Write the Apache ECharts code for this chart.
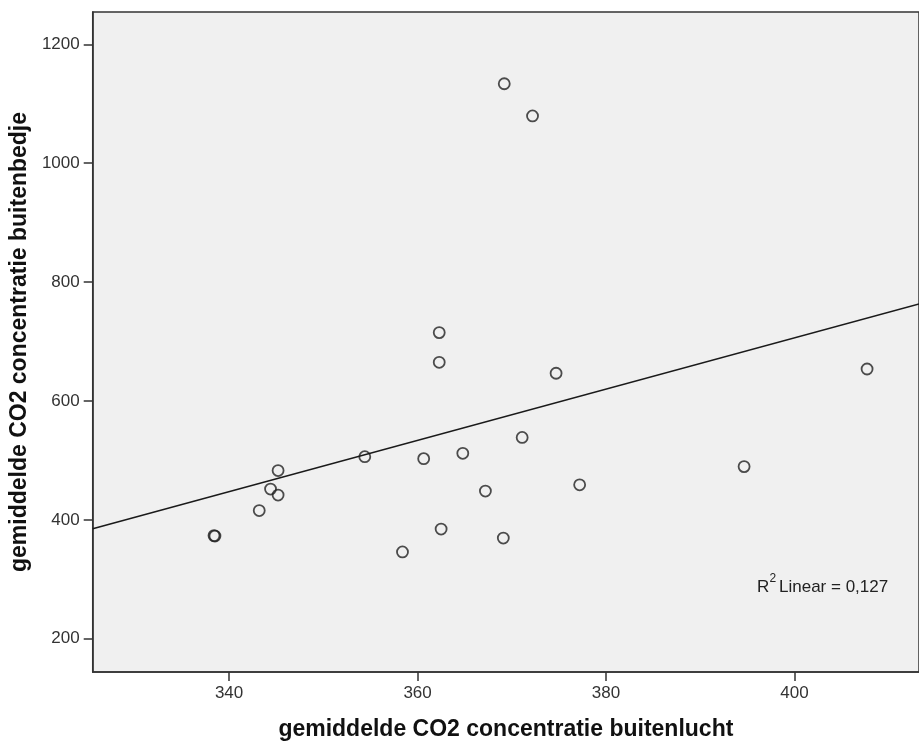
<!DOCTYPE html>
<html>
<head>
<meta charset="utf-8">
<script src="https://cdn.jsdelivr.net/npm/echarts@6/dist/echarts.min.js"></script>
<style>
  html, body { margin: 0; padding: 0; background: #fff; }
  #chart { width: 919px; height: 746px; }
</style>
</head>
<body>
<div id="chart"></div>
<script>
// gemiddelde CO2 buitenlucht (x) tegen buitenbedje (y)
const xs = [369.2, 372.2, 407.7, 394.65, 338.5, 338.4, 343.2, 344.4, 345.2, 345.2, 354.4,
  360.65, 358.4, 362.3, 362.3, 374.7, 371.1, 364.8, 367.2, 377.2, 362.5, 369.1]
const ys = [1133.6, 1079.5, 653.8, 489.6, 372.8, 373.5, 415.7, 451.8, 483, 441.7, 506.3,
  503, 346, 715, 665, 646.6, 538.6, 512, 448.4, 459, 384.5, 369.4]

const fitX = [325.53, 413.21]
const fitY = [385, 763]

const xTicks = [340, 360, 380, 400]
const yTicks = [200, 400, 600, 800, 1000, 1200]

const font = '"Liberation Sans", Arial, sans-serif'
const axisColor = '#333'

const chart = echarts.init(document.getElementById('chart'))

const option = {
  animation: false,
  grid: {
    left: 88,
    right: -2,
    top: 12,
    bottom: 69,
    show: true,
    backgroundColor: '#f0f0f0',
    borderColor: axisColor,
    borderWidth: 1.5
  },
  xAxis: {
    type: 'value',
    min: 325.53,
    max: 413.21,
    name: 'gemiddelde CO2 concentratie buitenlucht',
    nameLocation: 'middle',
    nameGap: 46,
    nameTextStyle: { fontFamily: font, fontSize: 23, fontWeight: 'bold', color: '#111' },
    axisLine: { show: true, lineStyle: { color: axisColor, width: 1.5 } },
    axisTick: { show: true, length: 9, customValues: xTicks, lineStyle: { color: axisColor, width: 1.5 } },
    axisLabel: {
      customValues: xTicks, margin: 13, fontFamily: font, fontSize: 17, color: '#333',
      formatter: (v) => String(v)
    },
    splitLine: { show: false }
  },
  yAxis: {
    type: 'value',
    min: 144.1,
    max: 1254.3,
    name: 'gemiddelde CO2 concentratie buitenbedje',
    nameLocation: 'middle',
    nameRotate: 90,
    nameGap: 51,
    nameTextStyle: { fontFamily: font, fontSize: 23, fontWeight: 'bold', color: '#111' },
    axisLine: { show: true, lineStyle: { color: axisColor, width: 1.5 } },
    axisTick: { show: true, length: 9, customValues: yTicks, lineStyle: { color: axisColor, width: 1.5 } },
    axisLabel: {
      customValues: yTicks, margin: 13, fontFamily: font, fontSize: 17, color: '#333',
      formatter: (v) => String(v)
    },
    splitLine: { show: false }
  },
  series: [
    {
      type: 'line',
      data: fitX.map((x, i) => [x, fitY[i]]),
      symbol: 'none',
      silent: true,
      lineStyle: { color: '#1a1a1a', width: 1.5 }
    },
    {
      type: 'scatter',
      data: xs.map((x, i) => [x, ys[i]]),
      symbol: 'circle',
      symbolSize: 11,
      itemStyle: { color: 'rgba(0,0,0,0)', borderColor: '#222', borderWidth: 1.8 }
    }
  ],
  graphic: [
    {
      type: 'text',
      style: { text: 'R', x: 757, y: 587, verticalAlign: 'middle', font: '17px ' + font, fill: '#222' }
    },
    {
      type: 'text',
      style: { text: '2', x: 769.5, y: 579, verticalAlign: 'middle', font: '12px ' + font, fill: '#222' }
    },
    {
      type: 'text',
      style: { text: 'Linear = 0,127', x: 779, y: 587, verticalAlign: 'middle', font: '17px ' + font, fill: '#222' }
    }
  ]
}

chart.setOption(option)

window.addEventListener('resize', () => chart.resize())
</script>
</body>
</html>
